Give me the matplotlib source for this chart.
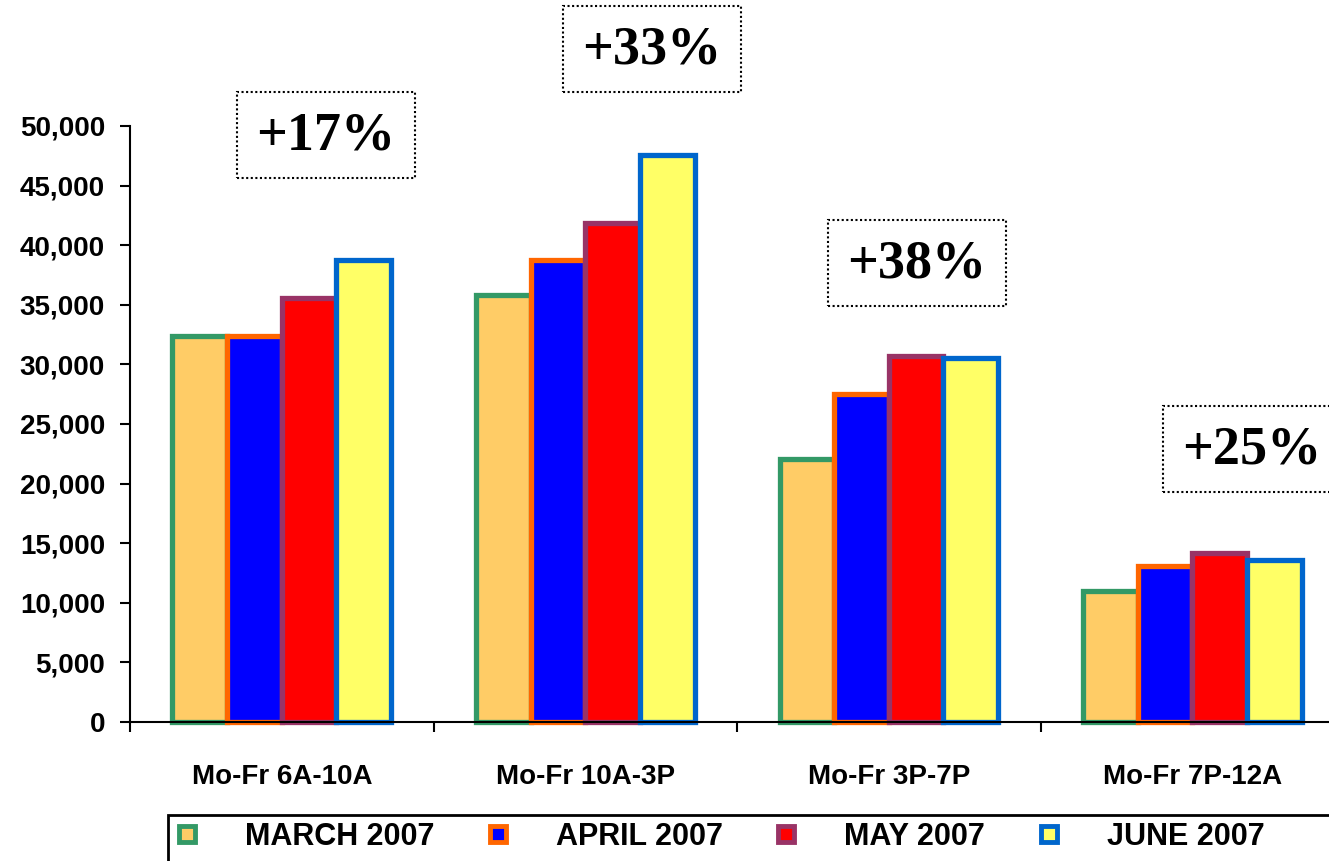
import matplotlib.pyplot as plt
from matplotlib.lines import Line2D
from matplotlib.patches import Rectangle
import numpy as np

plt.rcParams['font.family'] = ['Liberation Sans', 'DejaVu Sans']

categories = ['Mo-Fr 6A-10A', 'Mo-Fr 10A-3P', 'Mo-Fr 3P-7P', 'Mo-Fr 7P-12A']
months = ['MARCH 2007', 'APRIL 2007', 'MAY 2007', 'JUNE 2007']
march = [32400, 35800, 22100, 11000]
april = [32400, 38800, 27500, 13100]
may = [35600, 41900, 30700, 14200]
june = [38800, 47600, 30500, 13600]
growth = ['+17%', '+33%', '+38%', '+25%']

series = [march, april, may, june]
fills = ['#FFCC66', '#0000FF', '#FF0000', '#FFFF66']
edges = ['#339966', '#FF6600', '#993366', '#0066CC']

W, H = 1329, 861
fig = plt.figure(figsize=(W / 100, H / 100), dpi=100)
ax = fig.add_axes([130 / W, 1 - 722 / H, 1199 / W, 596 / H])

x = np.arange(len(categories))
bw = 0.18
for i, vals in enumerate(series):
    ax.bar(x + (i - 1.5) * bw, vals, width=bw, color=fills[i], edgecolor=edges[i],
           linewidth=3.8, zorder=2 + i, clip_on=False)

ax.set_xlim(-0.5, 3.45)
ax.set_ylim(0, 50000)
ax.set_yticks(range(0, 50001, 5000))
ax.set_yticklabels([f'{v:,}' for v in range(0, 50001, 5000)], fontsize=20, fontweight='bold')
ax.set_xticks(x)
ax.set_xticklabels(categories, fontsize=20, fontweight='bold')
ax.set_xticks(np.arange(-0.5, 3.5, 1.0), minor=True)
ax.tick_params(axis='x', which='major', length=0, pad=30)
ax.tick_params(axis='x', which='minor', length=7, width=1.5, direction='out')
ax.tick_params(axis='y', length=7, width=1.5, pad=11)
for s in ['top', 'right']:
    ax.spines[s].set_visible(False)
for s in ['left', 'bottom']:
    ax.spines[s].set_linewidth(1.5)
    ax.spines[s].set_zorder(10)

# percentage change boxes, placed in figure pixels
boxes = [(237, 92), (563, 6), (828, 220), (1163, 406)]
bwid, bhgt = 178, 86
for (px, py), txt in zip(boxes, growth):
    fig.patches.append(Rectangle((px / W, 1 - (py + bhgt) / H), bwid / W, bhgt / H,
                                 transform=fig.transFigure, fill=False,
                                 edgecolor='black', linestyle=(0, (1, 1.2)), linewidth=1.5))
    fig.text((px + bwid / 2) / W, 1 - (py + bhgt / 2 + 2) / H, txt,
             family='Liberation Serif', fontweight='bold', fontsize=39,
             ha='center', va='center')

# legend frame runs off the bottom/right edge
fig.patches.append(Rectangle((168 / W, 1 - 875 / H), 1170 / W, 60 / H,
                             transform=fig.transFigure, fill=False,
                             edgecolor='black', linewidth=2))
handles = [Line2D([], [], linestyle='none', marker='s', markersize=12,
                  markerfacecolor=fills[i], markeredgecolor=edges[i], markeredgewidth=3.5)
           for i in range(4)]
leg = fig.legend(handles, months, loc='upper left',
                 bbox_to_anchor=(172 / W, 1 - 822 / H),
                 ncol=4, frameon=False,
                 prop={'weight': 'bold', 'size': 22}, handletextpad=1.4,
                 columnspacing=1.57, borderaxespad=0, borderpad=0, handlelength=1.0)

fig.savefig('out.png', dpi=100)
